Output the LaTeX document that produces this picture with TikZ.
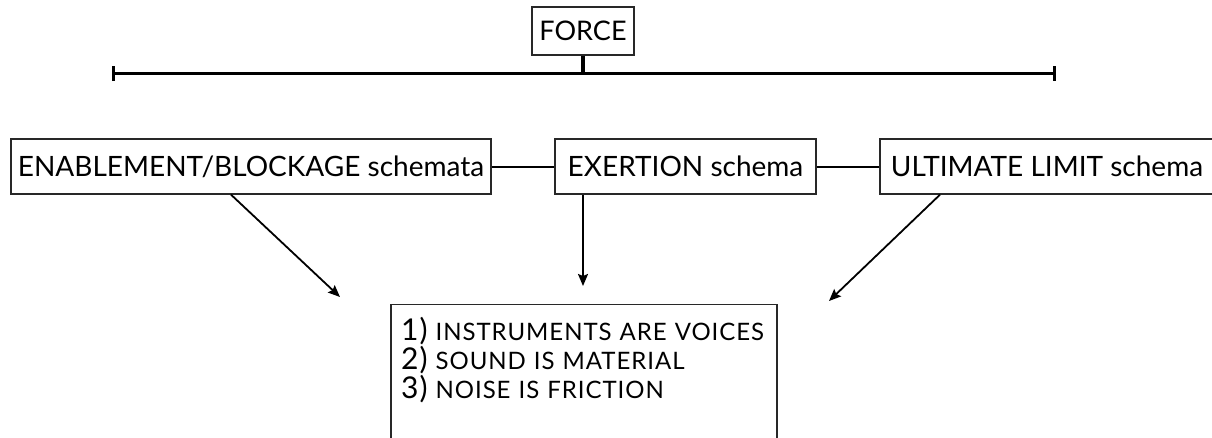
\documentclass[tikz,border=0pt]{standalone}
\usepackage{fontspec}
\setmainfont{Lato}
\usetikzlibrary{arrows.meta,positioning}
\definecolor{inkGray}{RGB}{40,40,40}
\tikzset{
  schema/.style={draw=inkGray, line width=1.3pt, inner sep=0pt, minimum height=55pt, font=\fontsize{28}{32}\selectfont},
  metalist/.style={draw=inkGray, line width=1.3pt, inner xsep=10pt, inner ysep=13pt, align=left, font=\fontsize{24}{26}\selectfont\addfontfeatures{LetterSpace=4}},
  link/.style={line width=2pt},
  arrow/.style={-{Stealth[length=12pt,width=10pt,inset=2pt]}, line width=1.8pt},
  bar/.style={{Bar[width=15pt]}-{Bar[width=15pt]}, line width=2.6pt},
  stem/.style={line width=4pt}
}
\newcommand{\num}[1]{{\fontsize{30}{26}\selectfont #1}}

\begin{document}
\begin{tikzpicture}[x=1pt,y=-1pt]
  \useasboundingbox (0,0) rectangle (1212,437);
  \node[schema, minimum width=102pt, minimum height=48pt, font=\fontsize{27}{30}\selectfont] (force) at (583,31) {FORCE};
  \coordinate (barL) at (112,73.5);
  \coordinate (barR) at (1056,73.5);

  \node[schema, minimum width=480pt] (enable) at (251,166.5) {ENABLEMENT/BLOCKAGE schemata};
  \node[schema, minimum width=261pt] (exert) at (685.5,166.5) {EXERTION schema};
  \node[schema, minimum width=334pt] (limit) at (1047,166.5) {ULTIMATE LIMIT schema};

  \node[metalist, text width=366pt, text depth=150pt, anchor=north] (meta) at (584,304)
    {\num{1)} INSTRUMENTS ARE VOICES\\\num{2)} SOUND IS MATERIAL\\\num{3)} NOISE IS FRICTION};

  \coordinate (hitL) at (340,297);
  \coordinate (hitM) at (583,286);
  \coordinate (hitR) at (829,301);

  \draw[bar] (barL) -- (barR);
  \draw[stem] (force.south) -- (force.south |- barL);
  \draw[link] (enable) -- (exert);
  \draw[link] (exert) -- (limit);
  \draw[arrow] ([xshift=-20pt]enable.south) -- (hitL);
  \draw[arrow] ([xshift=-102.5pt]exert.south) -- (hitM);
  \draw[arrow] ([xshift=-107pt]limit.south) -- (hitR);
\end{tikzpicture}
\end{document}
